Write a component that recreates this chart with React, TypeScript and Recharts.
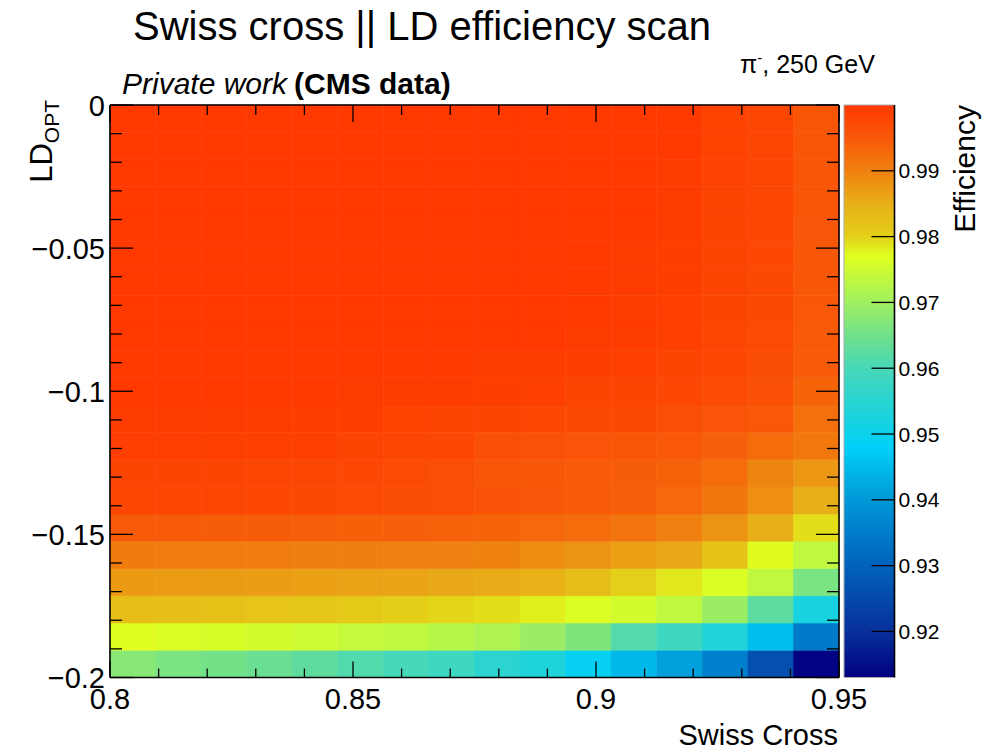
import React from 'react';
import { ScatterChart, Scatter, XAxis, YAxis, ReferenceArea } from 'recharts';

// scan points = bin centres of the 2D histogram
const swissCross = [0.8, 0.81, 0.82, 0.83, 0.84, 0.85, 0.86, 0.87, 0.88, 0.89, 0.9, 0.91, 0.92, 0.93, 0.94, 0.95];
const ldOpt = [
  -0.2, -0.19, -0.18, -0.17, -0.16, -0.15, -0.14, -0.13, -0.12, -0.11, -0.1,
  -0.09, -0.08, -0.07, -0.06, -0.05, -0.04, -0.03, -0.02, -0.01, 0,
];

// efficiency[row][col]: rows follow ldOpt (bottom to top), cols follow swissCross
const efficiency = [
  [0.9675, 0.9662, 0.9652, 0.9642, 0.9628, 0.9612, 0.9598, 0.9585, 0.9555, 0.9532, 0.949, 0.9446, 0.9411, 0.9356, 0.9264, 0.9135],
  [0.977, 0.9765, 0.976, 0.9755, 0.975, 0.974, 0.9735, 0.9725, 0.9715, 0.9695, 0.9665, 0.9615, 0.9585, 0.9535, 0.9455, 0.9345],
  [0.9828, 0.9825, 0.9822, 0.9819, 0.9815, 0.981, 0.9802, 0.9796, 0.9792, 0.978, 0.9766, 0.9756, 0.9735, 0.9695, 0.9625, 0.952],
  [0.9873, 0.9872, 0.9871, 0.9869, 0.9867, 0.9865, 0.9862, 0.9858, 0.9855, 0.9848, 0.9828, 0.98, 0.9786, 0.9765, 0.9735, 0.966],
  [0.9906, 0.9905, 0.9905, 0.9904, 0.9903, 0.9902, 0.99, 0.9899, 0.9897, 0.9888, 0.988, 0.9867, 0.9857, 0.9823, 0.9772, 0.9735],
  [0.9946, 0.9946, 0.9945, 0.9944, 0.9943, 0.9941, 0.994, 0.9938, 0.9935, 0.993, 0.9925, 0.9915, 0.99, 0.988, 0.985, 0.9792],
  [0.9978, 0.9977, 0.9976, 0.9975, 0.9974, 0.997, 0.9969, 0.9966, 0.996, 0.9953, 0.9948, 0.9943, 0.993, 0.9913, 0.9885, 0.985],
  [0.9981, 0.998, 0.998, 0.9978, 0.9977, 0.9975, 0.9972, 0.9965, 0.9955, 0.9952, 0.9947, 0.9945, 0.9938, 0.9925, 0.9895, 0.9875],
  [0.999, 0.999, 0.9989, 0.9988, 0.9987, 0.9981, 0.9978, 0.9975, 0.9963, 0.996, 0.9957, 0.9955, 0.995, 0.994, 0.9925, 0.991],
  [0.9996, 0.9996, 0.9995, 0.9995, 0.9992, 0.9991, 0.9985, 0.9981, 0.998, 0.9975, 0.9974, 0.9973, 0.9966, 0.9956, 0.995, 0.992],
  [0.9998, 0.9998, 0.9998, 0.9997, 0.9997, 0.9996, 0.9994, 0.9993, 0.9992, 0.9988, 0.9981, 0.998, 0.9975, 0.9972, 0.9963, 0.9935],
  [0.9999, 0.9999, 0.9999, 0.9998, 0.9998, 0.9998, 0.9997, 0.9997, 0.9996, 0.9994, 0.9991, 0.9988, 0.9981, 0.9975, 0.9969, 0.9946],
  [0.9999, 0.9999, 0.9999, 0.9999, 0.9999, 0.9999, 0.9999, 0.9999, 0.9998, 0.9998, 0.9996, 0.9994, 0.9988, 0.9978, 0.9972, 0.9948],
  [0.9999, 0.9999, 0.9999, 0.9999, 0.9999, 0.9999, 0.9999, 0.9999, 0.9998, 0.9998, 0.9997, 0.9995, 0.999, 0.998, 0.9973, 0.995],
  [0.9999, 0.9999, 0.9999, 0.9999, 0.9999, 0.9999, 0.9999, 0.9999, 0.9999, 0.9998, 0.9997, 0.9995, 0.9991, 0.998, 0.9974, 0.9951],
  [0.9999, 0.9999, 0.9999, 0.9999, 0.9999, 0.9999, 0.9999, 0.9999, 0.9999, 0.9999, 0.9997, 0.9996, 0.9992, 0.9981, 0.9975, 0.9952],
  [0.9999, 0.9999, 0.9999, 0.9999, 0.9999, 0.9999, 0.9999, 0.9999, 0.9999, 0.9999, 0.9999, 0.9998, 0.9993, 0.9982, 0.9976, 0.9953],
  [0.9999, 0.9999, 0.9999, 0.9999, 0.9999, 0.9999, 0.9999, 0.9999, 0.9999, 0.9999, 0.9999, 0.9998, 0.9994, 0.9982, 0.9976, 0.9954],
  [0.9999, 0.9999, 0.9999, 0.9999, 0.9999, 0.9999, 0.9999, 0.9999, 0.9999, 0.9999, 0.9999, 0.9998, 0.9994, 0.9983, 0.9977, 0.9954],
  [0.9999, 0.9999, 0.9999, 0.9999, 0.9999, 0.9999, 0.9999, 0.9999, 0.9999, 0.9999, 0.9999, 0.9998, 0.9997, 0.9985, 0.9978, 0.9955],
  [0.9999, 0.9999, 0.9999, 0.9999, 0.9999, 0.9999, 0.9999, 0.9999, 0.9999, 0.9999, 0.9999, 0.9998, 0.9997, 0.9985, 0.9978, 0.9955],
];

// histogram binning
const xRange = [0.8, 0.95];
const yRange = [-0.2, 0];

const xTicks = [0.8, 0.81, 0.82, 0.83, 0.84, 0.85, 0.86, 0.87, 0.88, 0.89, 0.9, 0.91, 0.92, 0.93, 0.94, 0.95];
const xMajor = [0.8, 0.85, 0.9, 0.95];
const xMajorLabels = ['0.8', '0.85', '0.9', '0.95'];
const yTicks = [
  -0.2, -0.19, -0.18, -0.17, -0.16, -0.15, -0.14, -0.13, -0.12, -0.11, -0.1,
  -0.09, -0.08, -0.07, -0.06, -0.05, -0.04, -0.03, -0.02, -0.01, 0,
];
const yMajor = [0, -0.05, -0.1, -0.15, -0.2];
const yMajorLabels = ['0', '\u22120.05', '\u22120.1', '\u22120.15', '\u22120.2'];

const effRange = [0.913, 1.0];
const effTicks = [0.92, 0.93, 0.94, 0.95, 0.96, 0.97, 0.98, 0.99];
const effTickLabels = ['0.92', '0.93', '0.94', '0.95', '0.96', '0.97', '0.98', '0.99'];

// rainbow palette (value -> colour)
const palette: [number, string][] = [
  [0.913, '#000080'],
  [0.92, '#08309a'],
  [0.93, '#0062bc'],
  [0.94, '#0098d8'],
  [0.948, '#00d0f8'],
  [0.955, '#28d4d0'],
  [0.96, '#48d8b8'],
  [0.965, '#70e08a'],
  [0.97, '#a0f060'],
  [0.977, '#e0ff20'],
  [0.98, '#e4d018'],
  [0.985, '#e8b018'],
  [0.99, '#f08010'],
  [0.995, '#f85808'],
  [1.0, '#ff3800'],
];

const FONT = '"Liberation Sans", Arial, Helvetica, sans-serif';

const rgb = (h: string) => [1, 3, 5].map((i) => parseInt(h.slice(i, i + 2), 16));

const colorFor = (v: number) => {
  const c = Math.min(Math.max(v, palette[0][0]), palette[palette.length - 1][0]);
  for (let k = 1; k < palette.length; k++) {
    const [v1, h1] = palette[k];
    if (c <= v1) {
      const [v0, h0] = palette[k - 1];
      const t = (c - v0) / (v1 - v0);
      const a = rgb(h0);
      const b = rgb(h1);
      const m = a.map((x, i) => Math.round(x + (b[i] - x) * t));
      return `rgb(${m[0]},${m[1]},${m[2]})`;
    }
  }
  return palette[palette.length - 1][1];
};

const dx = (xRange[1] - xRange[0]) / swissCross.length;
const dy = (yRange[1] - yRange[0]) / ldOpt.length;

const cells = ldOpt.flatMap((_, j) =>
  swissCross.map((__, i) => ({
    x1: xRange[0] + i * dx,
    x2: xRange[0] + (i + 1) * dx,
    y1: yRange[0] + j * dy,
    y2: yRange[0] + (j + 1) * dy,
    fill: colorFor(efficiency[j][i]),
  }))
);

const points = ldOpt.flatMap((y) => swissCross.map((x) => ({ x, y })));

const labelFor = (v: number, ticks: number[], labels: string[]) => {
  const i = ticks.findIndex((t) => Math.abs(t - v) < 1e-6);
  return i >= 0 ? labels[i] : null;
};

const BottomTick = ({ x, y, payload }: any) => {
  const label = labelFor(payload.value, xMajor, xMajorLabels);
  const len = label ? 16 : 9;
  return (
    <g>
      <line x1={x} x2={x} y1={y} y2={y - len} stroke="#000" strokeWidth={1.3} />
      {label && (
        <text x={x} y={y + 31} textAnchor="middle" fontSize={29} fontFamily={FONT} fill="#000">
          {label}
        </text>
      )}
    </g>
  );
};

const TopTick = ({ x, y, payload }: any) => {
  const len = labelFor(payload.value, xMajor, xMajorLabels) ? 17 : 10;
  return <line x1={x} x2={x} y1={y} y2={y + len} stroke="#000" strokeWidth={1.3} />;
};

const LeftTick = ({ x, y, payload }: any) => {
  const label = labelFor(payload.value, yMajor, yMajorLabels);
  const len = label ? 23 : 12;
  return (
    <g>
      <line x1={x} x2={x + len} y1={y} y2={y} stroke="#000" strokeWidth={1.3} />
      {label && (
        <text x={x - 5} y={y + 10.5} textAnchor="end" fontSize={29} fontFamily={FONT} fill="#000">
          {label}
        </text>
      )}
    </g>
  );
};

const RightTick = ({ x, y, payload }: any) => {
  const len = labelFor(payload.value, yMajor, yMajorLabels) ? 23 : 12;
  return <line x1={x} x2={x - len} y1={y} y2={y} stroke="#000" strokeWidth={1.3} />;
};

const EffTick = ({ x, y, payload }: any) => {
  const label = labelFor(payload.value, effTicks, effTickLabels);
  return (
    <g>
      <line x1={x} x2={x - 23} y1={y} y2={y} stroke="#000" strokeWidth={1.3} />
      <text x={x + 4} y={y + 7.5} textAnchor="start" fontSize={21} fontFamily={FONT} fill="#000">
        {label}
      </text>
    </g>
  );
};

const axisLine = { stroke: '#000', strokeWidth: 1.6 };
const noShape = () => <g />;

export default function App() {
  return (
    <div style={{ position: 'absolute', left: 0, top: 0, width: 996, height: 750, background: '#fff' }}>
      <div style={{ position: 'absolute', left: 0, top: 0 }}>
        <ScatterChart width={996} height={750} margin={{ top: 95, right: 147, bottom: 42.5, left: 50 }}>
          {cells.map((c, k) => (
            <ReferenceArea
              key={k}
              x1={c.x1}
              x2={c.x2}
              y1={c.y1}
              y2={c.y2}
              fill={c.fill}
              fillOpacity={1}
              stroke={c.fill}
              strokeWidth={0.6}
              ifOverflow="visible"
            />
          ))}
          <XAxis
            type="number"
            dataKey="x"
            domain={xRange}
            ticks={xTicks}
            interval={0}
            height={30}
            tickSize={0}
            tickMargin={0}
            tickLine={false}
            axisLine={axisLine}
            tick={(p: any) => <BottomTick {...p} />}
          />
          <XAxis
            xAxisId="top"
            orientation="top"
            type="number"
            dataKey="x"
            domain={xRange}
            ticks={xTicks}
            interval={0}
            height={10}
            tickSize={0}
            tickMargin={0}
            tickLine={false}
            axisLine={axisLine}
            tick={(p: any) => <TopTick {...p} />}
          />
          <YAxis
            type="number"
            dataKey="y"
            domain={yRange}
            ticks={yTicks}
            interval={0}
            width={60}
            tickSize={0}
            tickMargin={0}
            tickLine={false}
            axisLine={axisLine}
            tick={(p: any) => <LeftTick {...p} />}
          />
          <YAxis
            yAxisId="right"
            orientation="right"
            type="number"
            dataKey="y"
            domain={yRange}
            ticks={yTicks}
            interval={0}
            width={10}
            tickSize={0}
            tickMargin={0}
            tickLine={false}
            axisLine={axisLine}
            tick={(p: any) => <RightTick {...p} />}
          />
          <Scatter data={points} shape={noShape} isAnimationActive={false} />
          <Scatter data={points} xAxisId="top" yAxisId="right" shape={noShape} isAnimationActive={false} />
        </ScatterChart>
      </div>

      <div style={{ position: 'absolute', left: 0, top: 0 }}>
        <ScatterChart width={996} height={750} margin={{ top: 105, right: 91.5, bottom: 72.5, left: 844 }}>
          <defs>
            <linearGradient id="effGrad" x1="0" y1="1" x2="0" y2="0">
              {palette.map(([v, c]) => (
                <stop key={v} offset={(v - effRange[0]) / (effRange[1] - effRange[0])} stopColor={c} />
              ))}
            </linearGradient>
          </defs>
          <ReferenceArea
            x1={0}
            x2={1}
            y1={effRange[0]}
            y2={effRange[1]}
            fill="url(#effGrad)"
            fillOpacity={1}
            stroke="#aaa"
            strokeWidth={1}
            ifOverflow="visible"
          />
          <XAxis type="number" dataKey="x" domain={[0, 1]} hide />
          <YAxis
            orientation="right"
            type="number"
            dataKey="y"
            domain={effRange}
            ticks={effTicks}
            interval={0}
            width={10}
            tickSize={0}
            tickMargin={0}
            tickLine={false}
            axisLine={axisLine}
            tick={(p: any) => <EffTick {...p} />}
          />
          <Scatter data={effTicks.map((y) => ({ x: 0.5, y }))} shape={noShape} isAnimationActive={false} />
        </ScatterChart>
      </div>

      <svg
        width={996}
        height={750}
        style={{ position: 'absolute', left: 0, top: 0, pointerEvents: 'none' }}
        fontFamily={FONT}
      >
        <text x={133} y={40} fontSize={40} fill="#000">
          Swiss cross || LD efficiency scan
        </text>
        <text x={122} y={94} fontSize={30} fill="#000">
          <tspan fontStyle="italic">Private work</tspan>
          <tspan fontWeight="bold" dx={7}>(CMS data)</tspan>
        </text>
        <text x={740} y={73} fontSize={25} fill="#000">
          <tspan>π</tspan>
          <tspan fontSize={15} dy={-10}>-</tspan>
          <tspan dy={10}>, 250 GeV</tspan>
        </text>
        <text transform="translate(52,100) rotate(-90)" textAnchor="end" fontSize={31} fill="#000">
          LD<tspan fontSize={21} dy={7}>OPT</tspan>
        </text>
        <text x={838} y={745} textAnchor="end" fontSize={29} fill="#000">
          Swiss Cross
        </text>
        <text transform="translate(975,105) rotate(-90)" textAnchor="end" fontSize={30} fill="#000">
          Efficiency
        </text>
      </svg>
    </div>
  );
}
